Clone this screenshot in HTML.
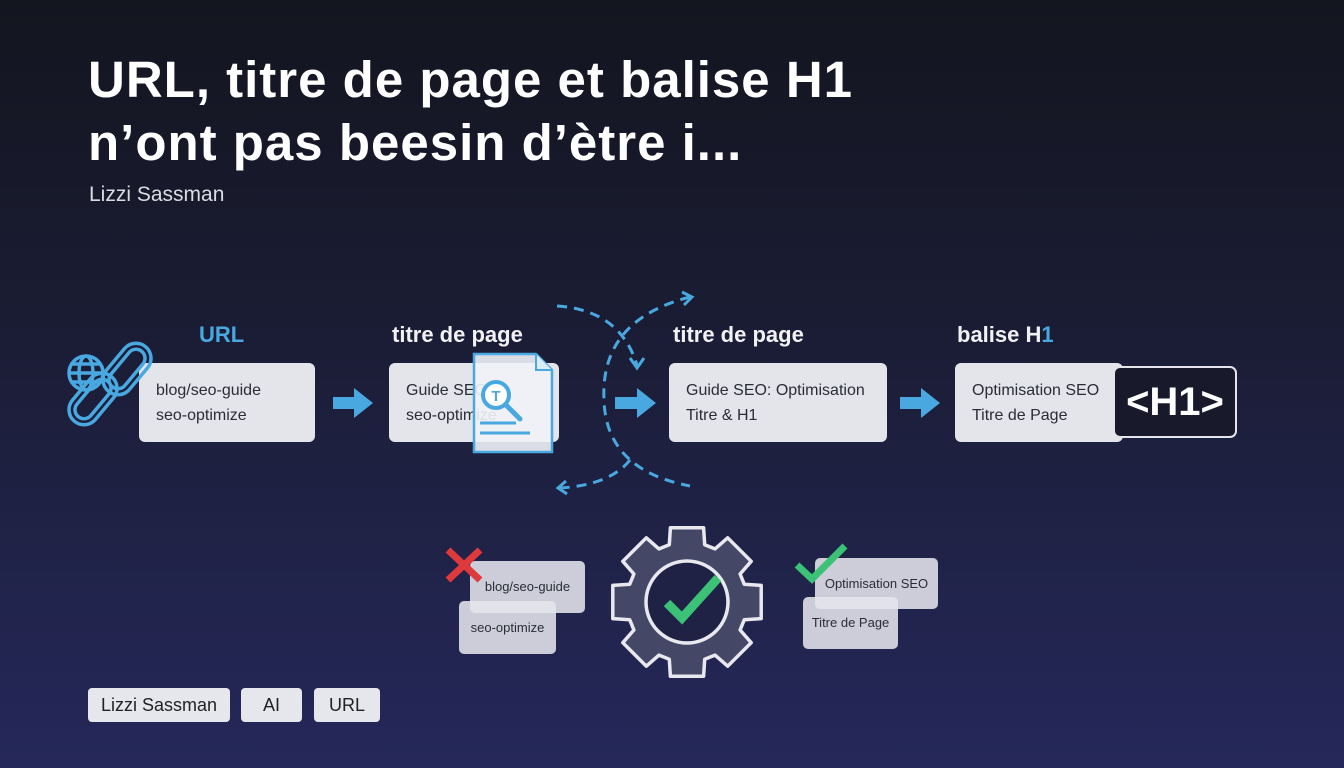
<!DOCTYPE html>
<html><head><meta charset="utf-8"><style>
body{margin:0;width:1344px;height:768px;overflow:hidden;background:linear-gradient(180deg,#13151f 0%,#1a1c33 40%,#25285a 100%);font-family:"Liberation Sans",sans-serif;position:relative}
.a{position:absolute}
h1{position:absolute;left:88px;top:48px;margin:0;color:#fff;font-size:51px;line-height:63px;font-weight:bold;letter-spacing:1px}
.box{position:absolute;background:#e4e5ea;border-radius:6px;color:#2a2c36;font-size:16px;line-height:25px;box-sizing:border-box}
.hd{position:absolute;color:#f2f2f5;font-size:22px;font-weight:bold}
.tag{position:absolute;top:688px;height:34px;background:#e6e7ec;border-radius:4px;color:#222;font-size:18px;line-height:34px;text-align:center}
.sm{position:absolute;background:rgba(228,229,236,0.88);border-radius:5px;color:#2a2c36;font-size:13px}
</style></head><body>
<h1>URL, titre de page et balise H1<br>n’ont pas beesin d’ètre i...</h1>
<div class="a" style="left:89px;top:183px;color:#dcdde3;font-size:21px">Lizzi Sassman</div>

<div class="hd" style="left:199px;top:322px;color:#4aa8e0">URL</div>
<div class="hd" style="left:392px;top:322px">titre de page</div>
<div class="hd" style="left:673px;top:322px">titre de page</div>
<div class="hd" style="left:957px;top:322px">balise H<span style="color:#4aa8e0">1</span></div>

<div class="box" style="left:139px;top:363px;width:176px;height:79px;padding:15px 17px">blog/seo-guide<br>seo-optimize</div>
<div class="box" style="left:389px;top:363px;width:170px;height:79px;padding:15px 17px">Guide SEO:<br>seo-optimize</div>
<div class="box" style="left:669px;top:363px;width:218px;height:79px;padding:15px 17px">Guide SEO: Optimisation<br>Titre &amp; H1</div>
<div class="box" style="left:955px;top:363px;width:168px;height:79px;padding:15px 17px">Optimisation SEO<br>Titre de Page</div>
<div class="a" style="left:1113px;top:366px;width:120px;height:68px;border:2px solid #e4e5ea;border-radius:7px;color:#fff;font-size:40px;font-weight:bold;line-height:68px;text-align:center;background:#181a2c">&lt;H1&gt;</div>

<svg class="a" style="left:0;top:0" width="1344" height="768">
<g fill="none" stroke="#4aa8e0" stroke-width="3.5">
<circle cx="86" cy="373" r="17"/><ellipse cx="86" cy="373" rx="7" ry="17"/><line x1="69" y1="373" x2="103" y2="373"/><line x1="72" y1="364" x2="100" y2="364"/><line x1="72" y1="382" x2="100" y2="382"/>
<rect x="112" y="340" width="30" height="58" rx="15" transform="rotate(40 127 369)"/>
<rect x="118" y="346" width="18" height="46" rx="9" transform="rotate(40 127 369)"/>
<rect x="78" y="370" width="30" height="58" rx="15" transform="rotate(40 93 399)"/>
<rect x="84" y="376" width="18" height="46" rx="9" transform="rotate(40 93 399)"/>
</g>
<path d="M474 354 H536 L552 370 V452 H474 Z" fill="rgba(240,242,248,0.9)" stroke="#4aa8e0" stroke-width="2.5"/>
<path d="M536 354 V370 H552" fill="#d9ecf8" stroke="#4aa8e0" stroke-width="2"/>
<circle cx="496" cy="395" r="13" fill="#fff" stroke="#4aa8e0" stroke-width="4"/>
<text x="496" y="401" font-size="15" font-weight="bold" fill="#4aa8e0" text-anchor="middle" font-family="Liberation Sans">T</text>
<line x1="506" y1="405" x2="520" y2="419" stroke="#4aa8e0" stroke-width="5" stroke-linecap="round"/>
<line x1="480" y1="423" x2="516" y2="423" stroke="#4aa8e0" stroke-width="3"/>
<line x1="480" y1="433" x2="530" y2="433" stroke="#4aa8e0" stroke-width="3"/>
<g fill="#4aa8e0">
<path d="M333 397 H354 V388 L373 403 L354 418 V409 H333 Z"/>
<path d="M615 397 H637 V388 L656 403 L637 418 V409 H615 Z"/>
<path d="M900 397 H921 V388 L940 403 L921 418 V409 H900 Z"/>
</g>
<g fill="none" stroke="#4aa8e0" stroke-width="3" stroke-dasharray="10 7">
<path d="M557 306 Q620 310 637 365"/>
<path d="M690 297 Q600 320 604 400 Q606 470 690 486"/>
<path d="M630 460 Q610 485 560 488"/>
</g>
<g fill="none" stroke="#4aa8e0" stroke-width="3">
<path d="M630 358 L637 368 L644 358"/>
<path d="M682 292 L692 297 L684 305"/>
<path d="M566 481 L558 488 L567 494"/>
</g>
<path id="gear" fill="#444766" stroke="#e8e8ee" stroke-width="3.5" stroke-linejoin="round"/>
<circle cx="687" cy="602" r="41" fill="#1f2245" stroke="#e8e8ee" stroke-width="3.5"/>
<path d="M667 603 L682 618 L718 578" fill="none" stroke="#3cc277" stroke-width="9"/>
</svg>
<div class="sm" style="left:470px;top:561px;width:115px;height:52px;line-height:52px;text-align:center">blog/seo-guide</div>
<div class="sm" style="left:459px;top:601px;width:97px;height:53px;line-height:53px;text-align:center">seo-optimize</div>
<div class="sm" style="left:815px;top:558px;width:123px;height:51px;line-height:51px;text-align:center">Optimisation SEO</div>
<div class="sm" style="left:803px;top:597px;width:95px;height:52px;line-height:52px;text-align:center">Titre de Page</div>
<svg class="a" style="left:443px;top:545px" width="45" height="45"><path d="M5 5 L37 35 M37 5 L5 35" stroke="#e0393c" stroke-width="7"/></svg>
<svg class="a" style="left:793px;top:540px" width="60" height="50"><path d="M4 25 L19 39 L52 6" fill="none" stroke="#3cc277" stroke-width="7"/></svg>

<div class="tag" style="left:88px;width:142px">Lizzi Sassman</div>
<div class="tag" style="left:241px;width:61px">AI</div>
<div class="tag" style="left:314px;width:66px">URL</div>
<script>
(function(){var cx=687,cy=602,R=76,r=60,n=8,p=[];
for(var i=0;i<n;i++){var b=i*2*Math.PI/n,w=0.22,w2=0.3;
[[b-w2,r],[b-w,R],[b+w,R],[b+w2,r]].forEach(function(q){p.push((cx+q[1]*Math.cos(q[0])).toFixed(1)+','+(cy+q[1]*Math.sin(q[0])).toFixed(1));});}
document.getElementById('gear').setAttribute('d','M'+p.join(' L')+' Z');})();
</script>
</body></html>
